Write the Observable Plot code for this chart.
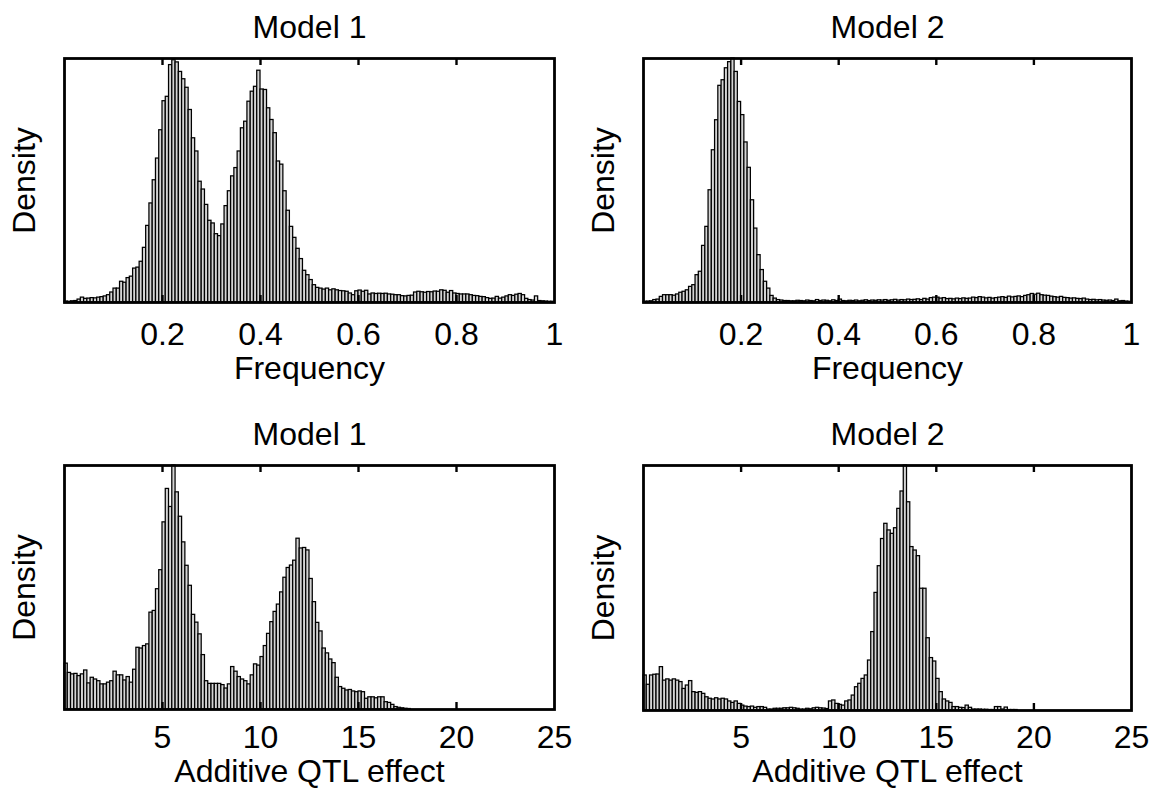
<!DOCTYPE html>
<html><head><meta charset="utf-8">
<script src="https://cdn.jsdelivr.net/npm/d3@7"></script>
<script src="https://cdn.jsdelivr.net/npm/@observablehq/plot@0.6"></script>
<style>
body{margin:0;background:#fff;}
#fig{position:relative;width:1150px;height:789px;overflow:hidden;}
</style></head><body><div id="fig"></div>
<script>
// ---- data (relative density, 150 equal-width bins per panel) ----
const freqTickMarks = [0.2, 0.4, 0.6, 0.8];
const freqTickLabels = [0.2, 0.4, 0.6, 0.8, 1];
const effectTickMarks = [5, 10, 15, 20];
const effectTickLabels = [5, 10, 15, 20, 25];
const titles = ["Model 1", "Model 2", "Model 1", "Model 2"];
const xLabels = ["Frequency", "Frequency", "Additive QTL effect", "Additive QTL effect"];
const yLabel = "Density";

const model1Freq = [
0.004,0.003,0.005,0.006,0.012,0.02,0.015,0.016,0.018,0.017,
0.02,0.022,0.025,0.03,0.041,0.057,0.057,0.085,0.081,0.10,
0.106,0.139,0.143,0.167,0.224,0.314,0.406,0.501,0.59,0.706,
0.825,0.843,0.973,0.993,0.984,0.945,0.915,0.88,0.789,0.673,
0.619,0.495,0.463,0.40,0.335,0.324,0.28,0.272,0.32,0.395,
0.456,0.517,0.551,0.619,0.714,0.741,0.823,0.864,0.884,0.95,
0.873,0.871,0.796,0.748,0.694,0.578,0.565,0.456,0.376,0.31,
0.265,0.22,0.178,0.13,0.112,0.092,0.071,0.06,0.057,0.053,
0.057,0.05,0.054,0.05,0.047,0.046,0.044,0.037,0.03,0.046,
0.049,0.044,0.048,0.033,0.037,0.035,0.036,0.035,0.036,0.033,
0.032,0.03,0.03,0.026,0.025,0.027,0.028,0.041,0.044,0.042,
0.04,0.043,0.042,0.045,0.044,0.05,0.048,0.04,0.047,0.037,
0.035,0.033,0.033,0.033,0.03,0.027,0.026,0.023,0.022,0.018,
0.015,0.016,0.023,0.016,0.02,0.025,0.03,0.027,0.032,0.035,
0.03,0.015,0.01,0.008,0.025,0.006,0.005,0.004,0.003,0.003];

const model2Freq = [
0.003,0.004,0.005,0.01,0.012,0.023,0.03,0.03,0.03,0.028,
0.033,0.04,0.044,0.05,0.064,0.071,0.112,0.126,0.232,0.31,
0.46,0.624,0.747,0.888,0.911,0.96,0.985,1.0,0.945,0.822,
0.768,0.656,0.552,0.419,0.303,0.194,0.133,0.085,0.057,0.027,
0.016,0.01,0.008,0.006,0.006,0.005,0.005,0.007,0.006,0.005,
0.008,0.006,0.005,0.01,0.006,0.008,0.007,0.005,0.009,0.006,
0.012,0.006,0.005,0.007,0.006,0.008,0.005,0.007,0.009,0.006,
0.008,0.007,0.009,0.008,0.01,0.007,0.009,0.011,0.008,0.01,
0.009,0.012,0.01,0.011,0.013,0.01,0.015,0.012,0.018,0.02,
0.02,0.016,0.018,0.014,0.015,0.013,0.016,0.014,0.017,0.015,
0.016,0.02,0.018,0.022,0.02,0.017,0.019,0.016,0.018,0.02,
0.022,0.019,0.024,0.021,0.023,0.025,0.022,0.027,0.03,0.035,
0.032,0.036,0.03,0.028,0.027,0.024,0.022,0.02,0.023,0.019,
0.018,0.016,0.017,0.015,0.014,0.016,0.012,0.01,0.011,0.009,
0.01,0.008,0.007,0.008,0.006,0.012,0.005,0.006,0.004,0.003];

const model1Effect = [
0.188,0.15,0.144,0.146,0.137,0.144,0.16,0.107,0.13,0.123,
0.116,0.103,0.103,0.11,0.116,0.155,0.14,0.14,0.119,0.133,
0.11,0.163,0.253,0.25,0.26,0.267,0.397,0.404,0.493,0.571,
0.767,0.904,0.83,1.0,0.89,0.79,0.685,0.589,0.507,0.388,
0.356,0.308,0.223,0.116,0.105,0.105,0.105,0.105,0.1,0.086,
0.103,0.174,0.155,0.133,0.123,0.116,0.103,0.14,0.185,0.18,
0.215,0.26,0.31,0.358,0.40,0.43,0.48,0.54,0.58,0.59,
0.61,0.70,0.66,0.662,0.652,0.535,0.44,0.355,0.32,0.25,
0.23,0.205,0.19,0.13,0.092,0.085,0.078,0.08,0.074,0.071,
0.074,0.071,0.044,0.05,0.05,0.046,0.05,0.05,0.03,0.027,
0.019,0.01,0.007,0.005,0.003,0.002,0,0,0,0,
0,0,0,0,0,0,0,0,0,0,
0,0,0,0,0,0,0,0,0,0,
0,0,0,0,0,0,0,0,0,0,
0,0,0,0,0,0,0,0,0,0];

const model2Effect = [
0.143,0.105,0.143,0.146,0.147,0.177,0.122,0.127,0.122,0.127,
0.122,0.116,0.088,0.102,0.12,0.075,0.072,0.075,0.068,0.054,
0.048,0.045,0.05,0.045,0.048,0.045,0.037,0.031,0.037,0.027,
0.02,0.016,0.014,0.016,0.011,0.014,0.014,0.011,0.004,0.004,
0.007,0.007,0.007,0.009,0.009,0.011,0.009,0.007,0.004,0.004,
0.007,0.005,0.009,0.011,0.009,0.008,0.006,0.037,0.041,0.027,
0.023,0.02,0.037,0.041,0.061,0.095,0.109,0.129,0.143,0.204,
0.32,0.48,0.589,0.70,0.762,0.735,0.721,0.744,0.823,0.894,
1.0,0.85,0.667,0.653,0.63,0.497,0.497,0.295,0.214,0.2,
0.129,0.075,0.045,0.037,0.031,0.014,0.014,0.011,0.01,0.02,
0.011,0.004,0.004,0.004,0.003,0.003,0.002,0.002,0.014,0.014,
0.004,0.012,0.002,0.002,0.002,0,0,0,0,0,
0,0,0,0,0,0,0,0,0,0,
0,0,0,0,0,0,0,0,0,0,
0,0,0,0,0,0,0,0,0,0];

const FONT = "'Liberation Sans', Arial, Helvetica, sans-serif";
const FS = 32;
const fig = document.getElementById("fig");

function binsOf(values, maxX) {
  const n = values.length;
  return values.map((v, i) => ({x1: maxX * i / n, x2: maxX * (i + 1) / n, density: v}));
}

function panel(o) {
  const H = o.height - o.mt - o.mb;
  const chart = Plot.plot({
    width: 575, height: o.height,
    marginLeft: o.ml, marginRight: o.mr, marginTop: o.mt, marginBottom: o.mb,
    style: {fontFamily: FONT, fontSize: FS + "px", color: "#000", background: "transparent", overflow: "visible"},
    x: {domain: [0, o.max]},
    y: {domain: [0, 1], axis: null},
    marks: [
      Plot.rect(binsOf(o.values, o.max), {x1: "x1", x2: "x2", y1: () => 0, y2: "density",
        fill: "#d4d4d4", stroke: "#000", strokeWidth: 1.25}),
      Plot.tickX(o.tickMarks, {x: d => d, insetBottom: H - 7, stroke: "#000", strokeWidth: 2.4}),
      Plot.tickX(o.tickMarks, {x: d => d, insetTop: H - 7, stroke: "#000", strokeWidth: 2.4}),
      Plot.frame({stroke: "#000", strokeWidth: 2.8}),
      Plot.axisX(o.tickLabels, {tickSize: 0, tickPadding: o.tickPad, fontSize: FS, tickFormat: d => String(d), label: null}),
      Plot.text([o.xlabel], {text: d => d, frameAnchor: "bottom", dy: o.labelDy, lineAnchor: "middle", textAnchor: "middle", fontSize: FS}),
      Plot.text([o.title], {text: d => d, frameAnchor: "top", dy: -31, lineAnchor: "middle", textAnchor: "middle", fontSize: FS}),
      Plot.text([yLabel], {text: d => d, frameAnchor: "left", dx: -40, rotate: -90, lineAnchor: "middle", textAnchor: "middle", fontSize: FS})
    ]
  });
  chart.style.position = "absolute";
  chart.style.left = o.left + "px";
  chart.style.top = o.top + "px";
  fig.appendChild(chart);
}

panel({values: model1Freq, max: 1, tickMarks: freqTickMarks, tickLabels: freqTickLabels, title: titles[0], xlabel: xLabels[0],
  left: 0, top: 0, height: 394, ml: 64, mr: 21, mt: 58, mb: 92, tickPad: 20, labelDy: 66});
panel({values: model2Freq, max: 1, tickMarks: freqTickMarks, tickLabels: freqTickLabels, title: titles[1], xlabel: xLabels[1],
  left: 575, top: 0, height: 394, ml: 68, mr: 19, mt: 58, mb: 92, tickPad: 20, labelDy: 66});
panel({values: model1Effect, max: 25, tickMarks: effectTickMarks, tickLabels: effectTickLabels, title: titles[2], xlabel: xLabels[2],
  left: 0, top: 394, height: 395, ml: 64, mr: 21, mt: 71, mb: 80, tickPad: 16, labelDy: 62});
panel({values: model2Effect, max: 25, tickMarks: effectTickMarks, tickLabels: effectTickLabels, title: titles[3], xlabel: xLabels[3],
  left: 575, top: 394, height: 395, ml: 68, mr: 19, mt: 71, mb: 79, tickPad: 15, labelDy: 61});
</script></body></html>
